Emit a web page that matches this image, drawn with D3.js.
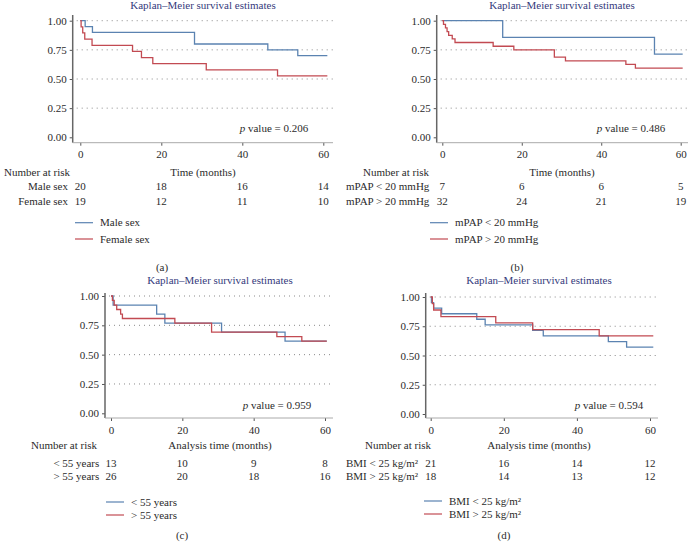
<!DOCTYPE html>
<html>
<head>
<meta charset="utf-8">
<script src="https://cdn.jsdelivr.net/npm/d3@7"></script>
<style>
  body { margin: 0; background: #fff; }
  svg text { font-family: "Liberation Serif", "DejaVu Serif", serif; font-size: 11px; fill: #2b2b2b; }
  .title { fill: #353a7c; }
</style>
</head>
<body>
<div id="chart"></div>
<script>
// survival curves (months, survival)
var maleTime = [0, 1.2, 3.0, 28.2, 46.3, 53.7, 61];
var maleSurv = [1, 0.95, 0.90, 0.80, 0.75, 0.70, 0.70];
var femaleTime = [0, 0.2, 0.6, 1.1, 2.9, 12.9, 15.1, 17.9, 31.1, 48.7, 61];
var femaleSurv = [1, 0.947, 0.895, 0.842, 0.789, 0.737, 0.684, 0.632, 0.579, 0.526, 0.526];

var lowPapTime = [0, 15.2, 53.4, 60.5];
var lowPapSurv = [1, 0.857, 0.714, 0.714];
var highPapTime = [0, 0.3, 0.8, 1.2, 1.6, 2.5, 3.2, 12.8, 18.0, 28.2, 31.0, 46.2, 48.6, 60.5];
var highPapSurv = [1, 0.969, 0.938, 0.906, 0.875, 0.844, 0.813, 0.781, 0.75, 0.688, 0.656, 0.625, 0.594, 0.594];

var youngTime = [0, 0.6, 12.8, 15.1, 31.0, 48.8, 60.5];
var youngSurv = [1, 0.923, 0.846, 0.769, 0.692, 0.615, 0.615];
var oldTime = [0, 0.4, 0.9, 1.6, 2.7, 3.2, 17.9, 28.2, 46.5, 53.5, 60.5];
var oldSurv = [1, 0.962, 0.923, 0.885, 0.846, 0.808, 0.769, 0.692, 0.654, 0.615, 0.615];

var lowBmiTime = [0, 0.2, 0.8, 3.0, 12.6, 14.9, 27.9, 30.8, 48.6, 53.6, 60.9];
var lowBmiSurv = [1, 0.952, 0.905, 0.857, 0.810, 0.762, 0.714, 0.667, 0.619, 0.571, 0.571];
var highBmiTime = [0, 0.45, 0.8, 2.8, 17.8, 27.9, 46.1, 60.9];
var highBmiSurv = [1, 0.944, 0.889, 0.833, 0.778, 0.722, 0.667, 0.667];

// number at risk at 0, 20, 40, 60 months
var riskTimes = [0, 20, 40, 60];
var maleRisk = [20, 18, 16, 14];
var femaleRisk = [19, 12, 11, 10];
var lowPapRisk = [7, 6, 6, 5];
var highPapRisk = [32, 24, 21, 19];
var youngRisk = [13, 10, 9, 8];
var oldRisk = [26, 20, 18, 16];
var lowBmiRisk = [21, 16, 14, 12];
var highBmiRisk = [18, 14, 13, 12];

var yTicks = [0, 0.25, 0.5, 0.75, 1];
var xTicks = [0, 20, 40, 60];

var blue = "#5b83b1";
var red = "#c24a52";

var svg = d3.select("#chart").append("svg")
    .attr("width", 688)
    .attr("height", 542);

function toPoints(t, s) {
    return t.map(function (d, i) { return {t: d, s: s[i]}; });
}

function drawPanel(p) {
    var g = svg.append("g");
    var x = d3.scaleLinear().domain([0, 60]).range([p.x0, p.x60]);
    var y = d3.scaleLinear().domain([0, 1]).range([p.y0, p.y1]);

    g.append("text").attr("class", "title")
        .attr("x", p.titleX).attr("y", p.titleY)
        .attr("text-anchor", "middle")
        .text("Kaplan\u2013Meier survival estimates");

    // dotted grid
    g.selectAll(".grid").data(yTicks.filter(function (d) { return d > 0; }))
        .enter().append("line")
        .attr("x1", p.ax + 4).attr("x2", p.xr)
        .attr("y1", function (d) { return y(d); })
        .attr("y2", function (d) { return y(d); })
        .attr("stroke", "#8a8a8a")
        .attr("stroke-width", 1)
        .attr("stroke-dasharray", "1,4");

    var yAxis = g.append("g")
        .attr("transform", "translate(" + p.ax + ",0)")
        .call(d3.axisLeft(y).tickValues(yTicks).tickFormat(d3.format(".2f")).tickSize(3).tickPadding(3));
    var xAxis = g.append("g")
        .attr("transform", "translate(0," + p.yb + ")")
        .call(d3.axisBottom(x).tickValues(xTicks).tickSize(3).tickPadding(5));
    [yAxis, xAxis].forEach(function (a) {
        a.select(".domain").remove();
        a.selectAll(".tick line").attr("stroke", "#555");
        a.selectAll(".tick text").attr("fill", null);
        a.attr("font-family", null).attr("font-size", null);
    });

    g.append("line").attr("x1", p.ax).attr("x2", p.ax)
        .attr("y1", p.ytop).attr("y2", p.yb)
        .attr("stroke", "#666").attr("stroke-width", 1.5);
    g.append("line").attr("x1", p.ax).attr("x2", p.xr)
        .attr("y1", p.yb).attr("y2", p.yb)
        .attr("stroke", "#aaa").attr("stroke-width", 1);

    var line = d3.line()
        .x(function (d) { return x(d.t); })
        .y(function (d) { return y(d.s); })
        .curve(d3.curveStepAfter);

    p.series.forEach(function (s) {
        g.append("path")
            .datum(toPoints(s.time, s.surv))
            .attr("d", line)
            .attr("fill", "none")
            .attr("stroke", s.color)
            .attr("stroke-width", 1.3);
    });

    g.append("text")
        .attr("x", p.pX).attr("y", p.pY)
        .attr("text-anchor", "middle")
        .html('<tspan font-style="italic">p</tspan> value = ' + p.pValue);

    g.append("text").attr("x", p.nrX).attr("y", p.headY).text("Number at risk");
    g.append("text").attr("x", p.titleX).attr("y", p.headY)
        .attr("text-anchor", "middle").text(p.xLabel);

    p.series.forEach(function (s, i) {
        var ry = p.rowY + i * p.rowGap;
        g.append("text")
            .attr("x", p.labelX).attr("y", ry)
            .attr("text-anchor", p.labelAnchor)
            .text(s.name);
        g.selectAll(null).data(s.risk).enter().append("text")
            .attr("x", function (d, j) { return x(riskTimes[j]); })
            .attr("y", ry)
            .attr("text-anchor", "middle")
            .text(function (d) { return d; });

        var ly = p.legY + i * p.legGap;
        g.append("line").attr("x1", p.legX).attr("x2", p.legX + 18)
            .attr("y1", ly).attr("y2", ly)
            .attr("stroke", s.color).attr("stroke-width", 1.2);
        g.append("text").attr("x", p.legX + 25).attr("y", ly + 3.5).text(s.name);
    });

    g.append("text").attr("x", p.capX).attr("y", p.capY)
        .attr("text-anchor", "middle").text(p.caption);
}

drawPanel({
    ax: 72.7, x0: 80.3, x60: 323.3, xr: 333, y1: 20.7, y0: 137.3, yb: 142.7, ytop: 15,
    titleX: 203, titleY: 8.5, pX: 274, pY: 132, pValue: "0.206",
    nrX: 4, headY: 175.5, xLabel: "Time (months)",
    labelX: 68, labelAnchor: "end", rowY: 189.5, rowGap: 15,
    legX: 75, legY: 222.7, legGap: 16.3,
    capX: 162, capY: 271, caption: "(a)",
    series: [
        {name: "Male sex", time: maleTime, surv: maleSurv, risk: maleRisk, color: blue},
        {name: "Female sex", time: femaleTime, surv: femaleSurv, risk: femaleRisk, color: red}
    ]
});

drawPanel({
    ax: 436.7, x0: 442.3, x60: 680.7, xr: 688, y1: 20.7, y0: 137.3, yb: 142.7, ytop: 15,
    titleX: 562, titleY: 8.5, pX: 631, pY: 132, pValue: "0.486",
    nrX: 363, headY: 175.5, xLabel: "Time (months)",
    labelX: 346, labelAnchor: "start", rowY: 189.5, rowGap: 15,
    legX: 430, legY: 222.7, legGap: 16.3,
    capX: 517, capY: 271, caption: "(b)",
    series: [
        {name: "mPAP < 20 mmHg", time: lowPapTime, surv: lowPapSurv, risk: lowPapRisk, color: blue},
        {name: "mPAP > 20 mmHg", time: highPapTime, surv: highPapSurv, risk: highPapRisk, color: red}
    ]
});

drawPanel({
    ax: 105, x0: 111, x60: 325, xr: 333, y1: 296, y0: 413.3, yb: 418, ytop: 293,
    titleX: 220, titleY: 284, pX: 277, pY: 409, pValue: "0.959",
    nrX: 31, headY: 449, xLabel: "Analysis time (months)",
    labelX: 99.3, labelAnchor: "end", rowY: 466.5, rowGap: 13.5,
    legX: 106, legY: 502, legGap: 13,
    capX: 182, capY: 539, caption: "(c)",
    series: [
        {name: "< 55 years", time: youngTime, surv: youngSurv, risk: youngRisk, color: blue},
        {name: "> 55 years", time: oldTime, surv: oldSurv, risk: oldRisk, color: red}
    ]
});

drawPanel({
    ax: 425.7, x0: 430.7, x60: 650, xr: 658, y1: 297, y0: 414, yb: 418, ytop: 293,
    titleX: 539, titleY: 284, pX: 609, pY: 409, pValue: "0.594",
    nrX: 365, headY: 449, xLabel: "Analysis time (months)",
    labelX: 346, labelAnchor: "start", rowY: 466.5, rowGap: 13.5,
    legX: 424, legY: 501, legGap: 13,
    capX: 504, capY: 539, caption: "(d)",
    series: [
        {name: "BMI < 25 kg/m\u00b2", time: lowBmiTime, surv: lowBmiSurv, risk: lowBmiRisk, color: blue},
        {name: "BMI > 25 kg/m\u00b2", time: highBmiTime, surv: highBmiSurv, risk: highBmiRisk, color: red}
    ]
});
</script>
</body>
</html>
